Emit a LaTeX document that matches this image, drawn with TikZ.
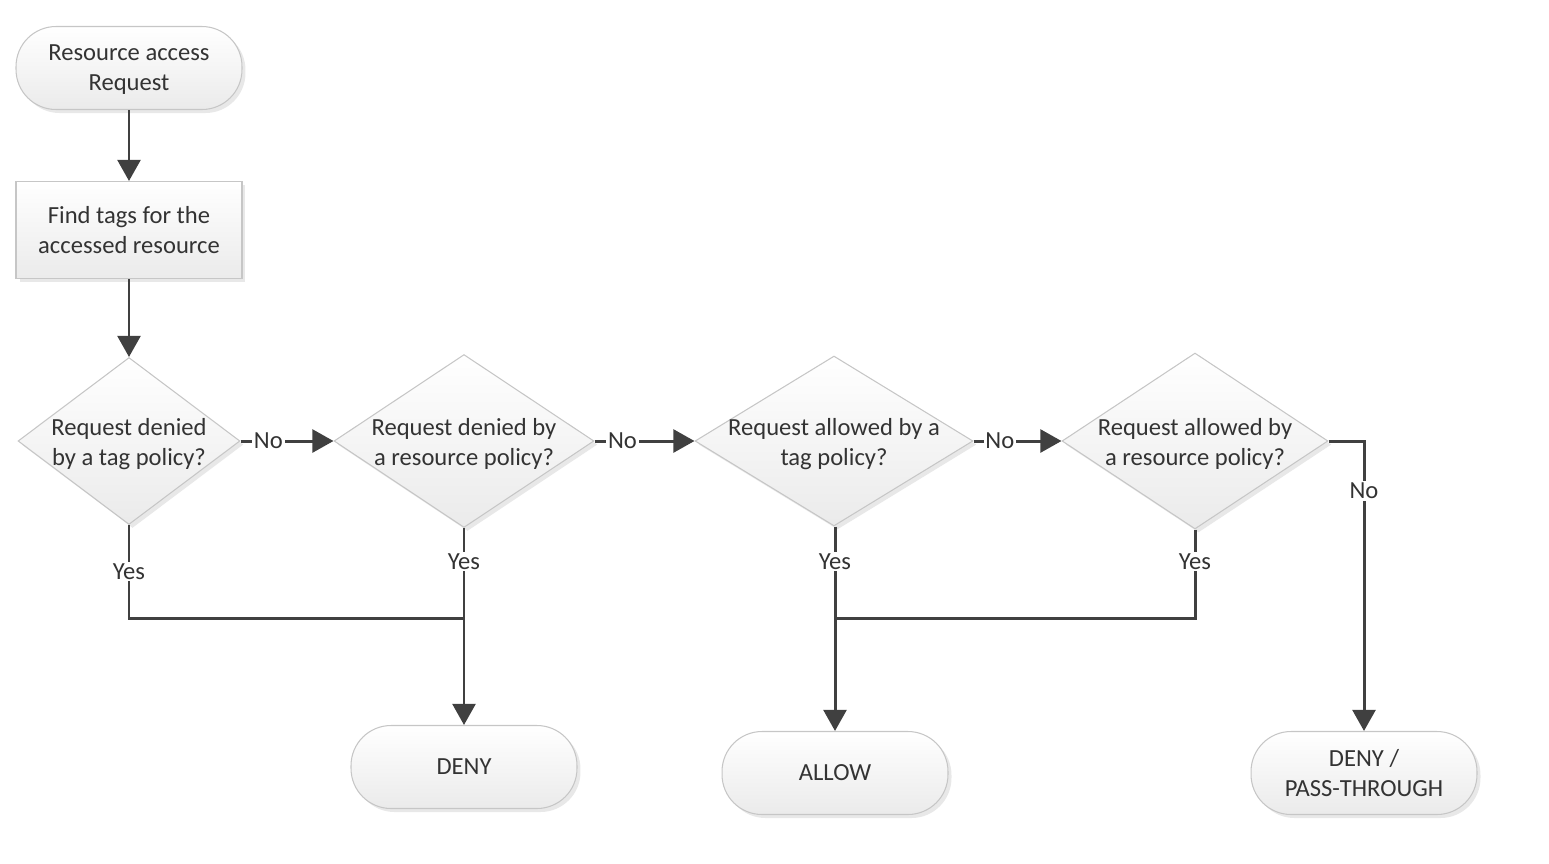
\documentclass[tikz,border=0pt]{standalone}
\usepackage{fontspec}
\setmainfont{Carlito}
\usepackage{tikz}
\usetikzlibrary{shapes,arrows.meta,shadows}
\definecolor{linegray}{HTML}{404040}
\definecolor{textgray}{HTML}{333333}
\tikzstyle{chartbox}=[draw=gray!45,line width=0.6pt,top color=white,bottom color=gray!16,
  drop shadow={opacity=0.18,shadow xshift=2pt,shadow yshift=-2pt},
  text=textgray,font=\fontsize{14}{17}\selectfont,align=center]
\tikzstyle{term}=[chartbox,rectangle,rounded corners=0.8cm,minimum width=4.52cm,minimum height=1.66cm]
\tikzstyle{proc}=[chartbox,rectangle,minimum width=4.52cm,minimum height=1.94cm]
\tikzstyle{test}=[chartbox,diamond,inner sep=0pt]
\tikzstyle{qtext}=[text=textgray,align=center,font=\fontsize{14}{17}\selectfont,yshift=-1.7pt]
\tikzstyle{flow}=[draw=linegray,line width=1.7pt,-{Triangle[length=12pt,width=13pt]}]
\tikzstyle{merge}=[draw=linegray,line width=1.7pt]
\tikzstyle{ans}=[fill=white,text=textgray,inner sep=1pt,font=\fontsize{14}{17}\selectfont]
\newcommand{\pxscale}{0.02}

\begin{document}
\begin{tikzpicture}[x=\pxscale cm,y=-\pxscale cm]
    \useasboundingbox (0,0) rectangle (1549,863);
    \node[term,text depth=-3.4pt] (start) at (129,68)  {Resource access\\Request};
    \node[proc] (tags)  at (129,230) {Find tags for the\\accessed resource};
    % decisions
    \node[test,minimum width=4.44cm,minimum height=3.34cm,
      label={[qtext]center:Request denied\\by a tag policy?}] (q1) at (129,441) {};
    \node[test,minimum width=5.2cm,minimum height=3.46cm,
      label={[qtext]center:Request denied by\\a resource policy?}] (q2) at (464,441) {};
    \node[test,minimum width=5.56cm,minimum height=3.4cm,
      label={[qtext]center:Request allowed by a\\tag policy?}] (q3) at (834,441) {};
    \node[test,minimum width=5.32cm,minimum height=3.52cm,
      label={[qtext]center:Request allowed by\\a resource policy?}] (q4) at (1195,441) {};
    % outcomes
    \node[term] (deny)  at (464,767)  {DENY};
    \node[term] (allow) at (835,773)  {ALLOW};
    \node[term] (pass)  at (1364,773) {DENY /\\PASS-THROUGH};
    \coordinate (j1) at (464,618);
    \coordinate (j2) at (835,618);

    \draw[flow] (start) -- (tags);
    \draw[flow] (tags) -- (q1);
    \draw[flow] (q1.east) -- node[ans,pos=0.3] {No} (q2.west);
    \draw[flow] (q2.east) -- node[ans,pos=0.28] {No} (q3.west);
    \draw[flow] (q3.east) -- node[ans,pos=0.3] {No} (q4.west);
    \draw[flow] (q4.east) -| node[ans,pos=0.586] {No} (pass.north);

    \draw[merge] (q1.south) |- node[ans,pos=0.25] {Yes} (j1);
    \draw[flow] (q2.south) -- node[ans,pos=0.17] {Yes} (deny.north);
    \draw[merge] (q4.south) |- node[ans,pos=0.18] {Yes} (j2);
    \draw[flow] (q3.south -| allow.north) -- node[ans,pos=0.17] {Yes} (allow.north);
\end{tikzpicture}
\end{document}
